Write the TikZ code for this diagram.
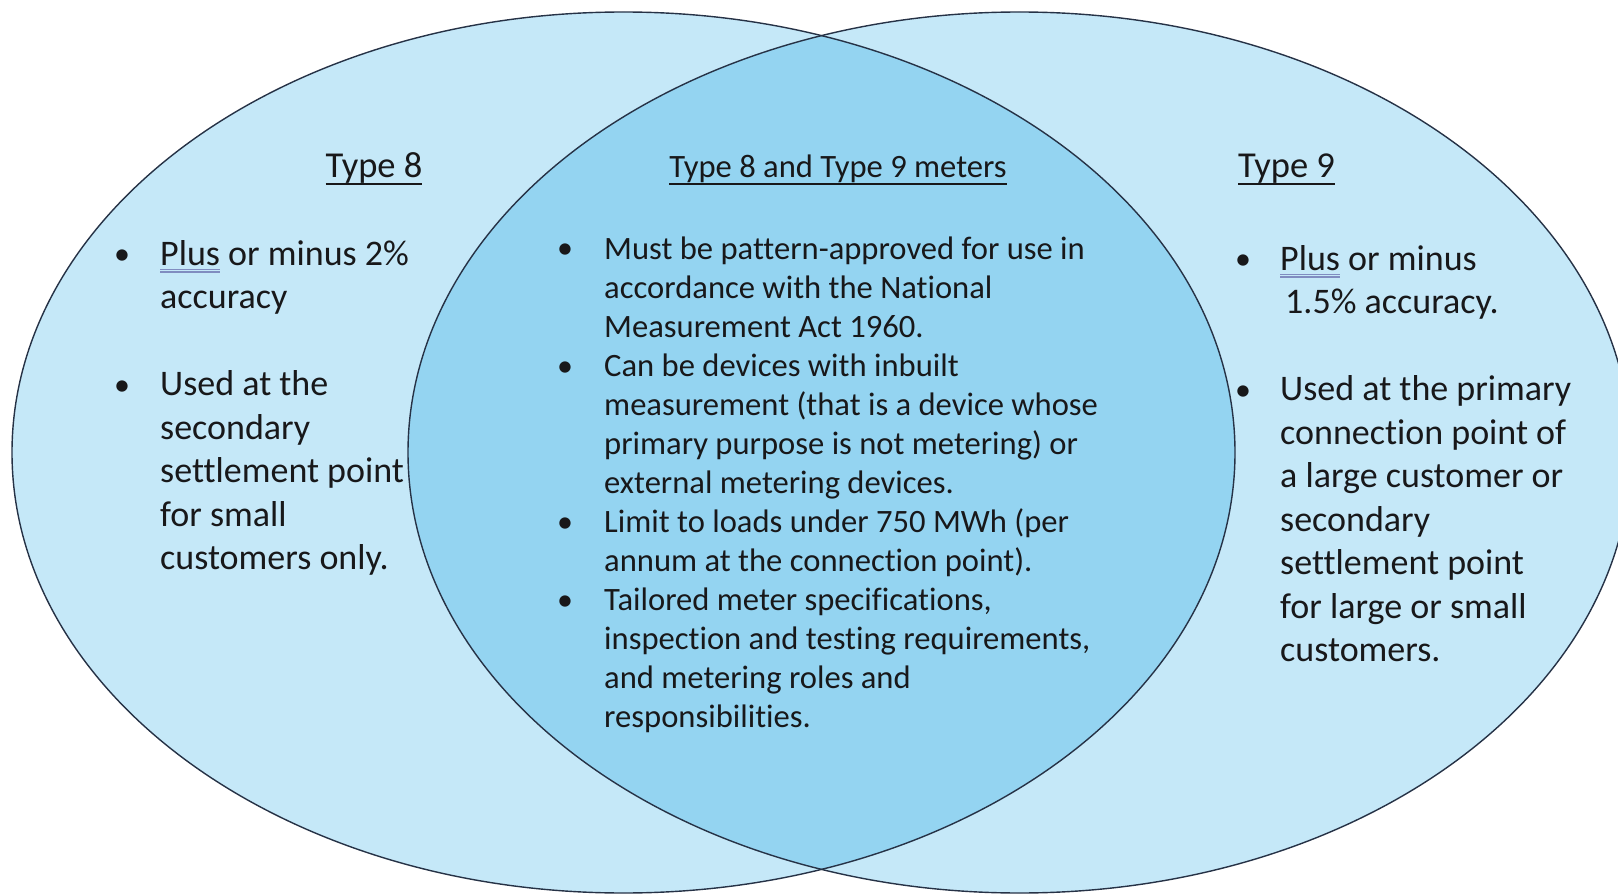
\documentclass[tikz,border=0pt]{standalone}
\usepackage{fontspec}
\setmainfont{Carlito}[Ligatures=NoCommon]
\usepackage{xcolor}
\usetikzlibrary{positioning}
\definecolor{setpale}{RGB}{197,232,248}
\definecolor{setdeep}{RGB}{148,212,241}
\definecolor{rimcol}{RGB}{38,50,70}
\definecolor{inkcol}{RGB}{24,24,26}
\definecolor{spellcol}{RGB}{128,140,192}
\newcommand{\headline}[1]{\sbox0{#1}\makebox[0pt][l]{\rule[-7pt]{\wd0}{1.8pt}}\usebox0}
\newcommand{\spellmark}[1]{\sbox0{#1}\makebox[0pt][l]{\color{spellcol}\rule[-5pt]{\wd0}{1.1pt}}\makebox[0pt][l]{\color{spellcol}\rule[-7.5pt]{\wd0}{1.1pt}}\usebox0}

\begin{document}
\begin{tikzpicture}[
  x=1pt,y=-1pt,
  side/.style={anchor=base west,align=left,inner sep=0pt,text=inkcol,
               font=\fontsize{36}{43.5}\selectfont},
  mid/.style={side,font=\fontsize{32.6}{39}\selectfont},
  head/.style={anchor=base,inner sep=0pt,text=inkcol,
               font=\fontsize{36.5}{43.5}\selectfont},
  dot/.style={anchor=base,inner sep=0pt,text=inkcol,
              font=\fontsize{32}{39}\selectfont},
  rim/.style={draw=rimcol,line width=1.4pt}
]
\useasboundingbox (0,0) rectangle (1618,896);
% the two sets and their overlap
\fill[setpale] (623.5,452.5) ellipse [x radius=611.5, y radius=440.5];
\fill[setpale] (1019.5,452.5) ellipse [x radius=611.5, y radius=440.5];
\begin{scope}
  \clip (623.5,452.5) ellipse [x radius=611.5, y radius=440.5];
  \fill[setdeep] (1019.5,452.5) ellipse [x radius=611.5, y radius=440.5];
\end{scope}
\draw[rim] (623.5,452.5) ellipse [x radius=611.5, y radius=440.5];
\draw[rim] (1019.5,452.5) ellipse [x radius=611.5, y radius=440.5];
% headings
\node[head] (h8) at (374,178) {\headline{Type 8}};
\node[head,font=\fontsize{32.6}{39}\selectfont] (hmid) at (838,178) {\headline{Type 8 and Type 9 meters}};
\node[head,anchor=base west] (h9) at (1238,178) {\headline{Type 9}};
% text blocks (base = last line)
\node[side] (t8) at (160,569.5) {\spellmark{Plus} or minus 2\%\\accuracy\\[43.5pt]
  Used at the\\secondary\\settlement point\\for small\\customers only.};
\node[mid] (tmid) at (604,727) {Must be pattern-approved for use in\\
  accordance with the National\\Measurement Act 1960.\\
  Can be devices with inbuilt\\measurement (that is a device whose\\
  primary purpose is not metering) or\\external metering devices.\\
  Limit to loads under 750 MWh (per\\annum at the connection point).\\
  Tailored meter specifications,\\inspection and testing requirements,\\
  and metering roles and\\responsibilities.};
\node[side] (t9) at (1280,661.5) {\spellmark{Plus} or minus\\\hspace*{5pt}1.5\% accuracy.\\[43.5pt]
  Used at the primary\\connection point of\\a large customer or\\secondary\\
  settlement point\\for large or small\\customers.};
% bullets
\foreach \k in {0,3}
  \node[dot] at ([xshift=-38pt,yshift=(7-\k)*43.5pt]t8.base west) {\textbullet};
\foreach \k in {0,3,7,9}
  \node[dot] at ([xshift=-39pt,yshift=(12-\k)*39pt]tmid.base west) {\textbullet};
\foreach \k in {0,3}
  \node[dot] at ([xshift=-37pt,yshift=(9-\k)*43.5pt]t9.base west) {\textbullet};
\end{tikzpicture}
\end{document}
